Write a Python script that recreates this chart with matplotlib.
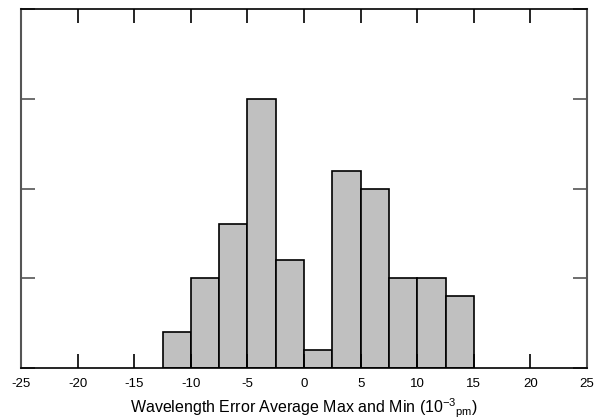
import matplotlib
matplotlib.use('Agg')
import matplotlib.pyplot as plt
import numpy as np

# datos del histograma
bin_edges = [-12.5, -10, -7.5, -5, -2.5, 0, 2.5, 5, 7.5, 10, 12.5, 15]
counts = [2, 5, 8, 15, 6, 1, 11, 10, 5, 5, 4]
x_ticks = [-25, -20, -15, -10, -5, 0, 5, 10, 15, 20, 25]
y_ticks = [0, 5, 10, 15, 20]

plt.rcParams['font.family'] = ['Liberation Sans', 'DejaVu Sans']
plt.rcParams['mathtext.fontset'] = 'custom'
plt.rcParams['mathtext.rm'] = 'Liberation Sans'
plt.rcParams['axes.unicode_minus'] = False

fig = plt.figure(figsize=(5.95, 4.2), dpi=100)
ax = fig.add_axes([21 / 595, 1 - 368 / 420, 566 / 595, 359 / 420])

widths = np.diff(bin_edges)
ax.bar(bin_edges[:-1], counts, width=widths, align='edge',
       color='#c0c0c0', edgecolor='black', linewidth=1.2)

ax.set_xlim(-25, 25)
ax.set_ylim(0, 20)
ax.set_xticks(x_ticks)
ax.set_xticklabels([str(t) for t in x_ticks], fontsize=9.5)
ax.set_yticks(y_ticks)
ax.set_yticklabels([])

ax.tick_params(axis='x', direction='in', length=10, width=1.2, top=True,
               bottom=True, pad=7, colors='black')
ax.tick_params(axis='y', direction='in', length=10, width=1.2, left=True,
               right=True, color='#555555')

for lado in ['left', 'right']:
    ax.spines[lado].set_color('#555555')
    ax.spines[lado].set_linewidth(1.5)
for lado in ['top', 'bottom']:
    ax.spines[lado].set_color('black')
    ax.spines[lado].set_linewidth(1.2)

ax.set_xlabel(r'Wavelength Error Average Max and Min (10$^{\mathregular{-3}}$${}_{\mathregular{pm}}$)',
              fontsize=11.5, labelpad=5)

plt.savefig('out.png', dpi=100, facecolor='white')
plt.close()
